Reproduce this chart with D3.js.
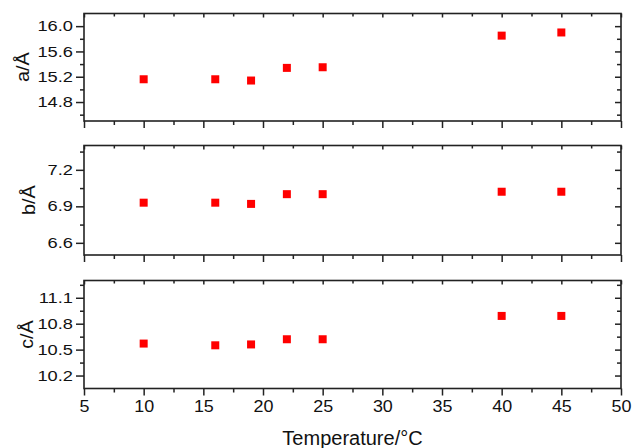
<!DOCTYPE html>
<html>
<head>
<meta charset="utf-8">
<script src="https://cdn.jsdelivr.net/npm/d3@7"></script>
<style>
  body { margin: 0; background: #fff; }
  svg { display: block; font-family: "Liberation Sans", Arial, sans-serif; }
</style>
</head>
<body>
<svg id="chart" width="632" height="448"></svg>
<script>
// data
const temps = [10, 16, 19, 22, 25, 40, 45];
const aValues = [15.16, 15.16, 15.14, 15.34, 15.35, 15.85, 15.90];
const bValues = [6.93, 6.93, 6.92, 7.00, 7.00, 7.02, 7.02];
const cValues = [10.57, 10.55, 10.56, 10.62, 10.62, 10.89, 10.89];

const xDomain = [5, 50];
const xTicks = [5, 10, 15, 20, 25, 30, 35, 40, 45, 50];
const xMinor = [7.5, 12.5, 17.5, 22.5, 27.5, 32.5, 37.5, 42.5, 47.5];

const aDomain = [14.5, 16.2];
const aTicks = [14.8, 15.2, 15.6, 16.0];
const aMinor = [14.6, 15.0, 15.4, 15.8];
const bDomain = [6.5, 7.4];
const bTicks = [6.6, 6.9, 7.2];
const bMinor = [6.75, 7.05, 7.35];
const cDomain = [10.05, 11.3];
const cTicks = [10.2, 10.5, 10.8, 11.1];
const cMinor = [10.35, 10.65, 10.95, 11.25];

const labels = ['a/Å', 'b/Å', 'c/Å'];

const svg = d3.select('#chart');
const left = 84, right = 621;

const x = d3.scaleLinear().domain(xDomain).range([left, right]);

const panels = [
  { label: labels[0], values: aValues, domain: aDomain, ticks: aTicks, minor: aMinor, top: 13.5, bottom: 121, titleX: 29 },
  { label: labels[1], values: bValues, domain: bDomain, ticks: bTicks, minor: bMinor, top: 145.5, bottom: 255, titleX: 35 },
  { label: labels[2], values: cValues, domain: cDomain, ticks: cTicks, minor: cMinor, top: 280.5, bottom: 388.5, titleX: 33 }
];

function styleAxis(g) {
  g.select('.domain').remove();
  g.selectAll('.tick line').attr('stroke', '#222').attr('stroke-width', 1.5);
  g.selectAll('text').attr('fill', '#111');
}

panels.forEach(function(p, i) {
  let y = d3.scaleLinear().domain(p.domain).range([p.bottom, p.top]);
  let g = svg.append('g');
  let last = i === panels.length - 1;

  // left axis, labels stretched a bit like the original
  let gl = g.append('g').attr('transform', `translate(${left},0)`)
    .call(d3.axisLeft(y).tickValues(p.ticks).tickSize(8).tickFormat(d3.format('.1f')))
    .call(styleAxis);
  gl.selectAll('text')
    .attr('font-size', 14.5)
    .attr('x', -11 / 1.26)
    .attr('transform', 'scale(1.26,1)');
  g.append('g').attr('transform', `translate(${left},0)`)
    .call(d3.axisLeft(y).tickValues(p.minor).tickSize(4).tickFormat(''))
    .call(styleAxis);

  // right axis, inward ticks
  g.append('g').attr('transform', `translate(${right},0)`)
    .call(d3.axisRight(y).tickValues(p.ticks).tickSize(-6).tickFormat(''))
    .call(styleAxis);
  g.append('g').attr('transform', `translate(${right},0)`)
    .call(d3.axisRight(y).tickValues(p.minor).tickSize(-4).tickFormat(''))
    .call(styleAxis);

  // top axis, inward ticks
  g.append('g').attr('transform', `translate(0,${p.top})`)
    .call(d3.axisTop(x).tickValues(xTicks).tickSize(-4).tickFormat(''))
    .call(styleAxis);
  g.append('g').attr('transform', `translate(0,${p.top})`)
    .call(d3.axisTop(x).tickValues(xMinor).tickSize(-3).tickFormat(''))
    .call(styleAxis);

  // bottom axis, outward ticks
  let gb = g.append('g').attr('transform', `translate(0,${p.bottom})`)
    .call(d3.axisBottom(x).tickValues(xTicks).tickSize(7).tickPadding(5)
      .tickFormat(last ? d3.format('d') : ''))
    .call(styleAxis);
  gb.selectAll('text').attr('font-size', 16).attr('transform', 'scale(1.12,1)');
  g.append('g').attr('transform', `translate(0,${p.bottom})`)
    .call(d3.axisBottom(x).tickValues(xMinor).tickSize(4).tickFormat(''))
    .call(styleAxis);

  // frame
  g.append('rect')
    .attr('x', left).attr('y', p.top)
    .attr('width', right - left).attr('height', p.bottom - p.top)
    .attr('fill', 'none').attr('stroke', '#222').attr('stroke-width', 1.6);

  // markers
  g.selectAll('rect.pt')
    .data(p.values)
    .join('rect')
    .attr('class', 'pt')
    .attr('x', (d, j) => x(temps[j]) - 4)
    .attr('y', d => y(d) - 4)
    .attr('width', 8).attr('height', 8)
    .attr('fill', '#ff0000');

  // y title
  g.append('text')
    .attr('transform', `translate(${p.titleX},${(p.top + p.bottom) / 2}) rotate(-90) scale(1.1,1)`)
    .attr('text-anchor', 'middle')
    .attr('font-size', 18)
    .attr('fill', '#111')
    .text(p.label);
});

svg.append('text')
  .attr('x', (left + right) / 2)
  .attr('y', 445)
  .attr('text-anchor', 'middle')
  .attr('font-size', 20)
  .attr('fill', '#111')
  .text('Temperature/°C');
</script>
</body>
</html>
